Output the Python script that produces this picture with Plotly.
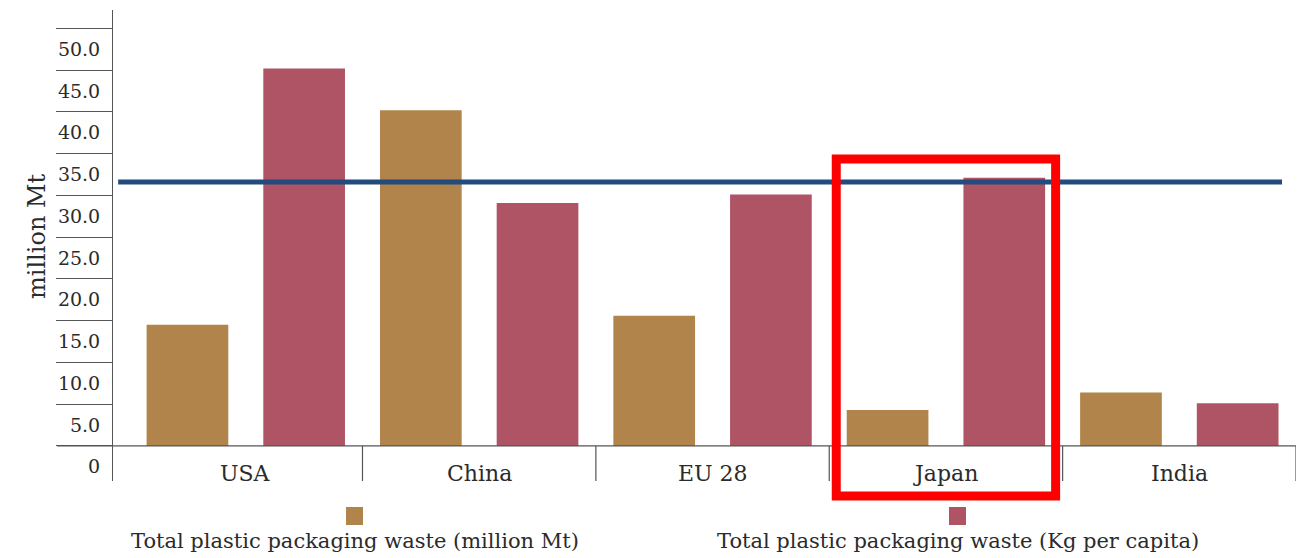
import plotly.graph_objects as go

# ---- data ----
categories = ["USA", "China", "EU 28", "Japan", "India"]
waste_million_mt = [14.5, 40.2, 15.6, 4.3, 6.4]
waste_kg_per_capita = [45.2, 29.1, 30.1, 32.1, 5.1]
reference_line = 31.6
series_names = ["Total plastic packaging waste (million Mt)",
                "Total plastic packaging waste (Kg per capita)"]
tick_values = [0, 5, 10, 15, 20, 25, 30, 35, 40, 45, 50]
tick_labels = ["0", "5.0", "10.0", "15.0", "20.0", "25.0", "30.0", "35.0",
               "40.0", "45.0", "50.0"]
highlight = "Japan"

GOLD = "#B0844A"
RED = "#AE5464"
BLUE = "#234B7D"
TXT = "#2B2B2B"
AXC = "#555555"
FONT = "DejaVu Serif"

W, H = 1313, 558
L, R, T, B = 113, 17, 10, 77
YMIN, YMAX = -4.2, 52.2
XMIN, XMAX = -0.569, 4.5

fig = go.Figure()
x_idx = list(range(len(categories)))
fig.add_trace(go.Bar(x=x_idx, y=waste_million_mt, name=series_names[0],
                     marker=dict(color=GOLD, line=dict(width=0))))
fig.add_trace(go.Bar(x=x_idx, y=waste_kg_per_capita, name=series_names[1],
                     marker=dict(color=RED, line=dict(width=0))))

# label axis (labels sit half an interval below each tick line)
half = (tick_values[1] - tick_values[0]) / 2
fig.add_trace(go.Scatter(x=[None], y=[None], yaxis="y2", showlegend=False))

shapes = []
# reference line
shapes.append(dict(type="line", xref="x", yref="y", x0=-0.547, x1=4.44,
                   y0=reference_line, y1=reference_line,
                   line=dict(color=BLUE, width=5), layer="above"))
# zero baseline extending to the left of the axis
shapes.append(dict(type="line", xref="paper", yref="y", x0=-56 / (W - L - R), x1=1,
                   y0=0, y1=0, line=dict(color=AXC, width=1.2)))
# category separators below baseline
for i in range(len(categories)):
    shapes.append(dict(type="line", xref="x", yref="y", x0=i + 0.5, x1=i + 0.5,
                       y0=YMIN, y1=0, line=dict(color=AXC, width=1.2)))

# highlight box
pw = W - L - R
ph = H - T - B
hi = categories.index(highlight)
px_per_x = pw / (XMAX - XMIN)
bx0 = L + (hi - 0.47 - XMIN) * px_per_x
bx1 = L + (hi + 0.47 - XMIN) * px_per_x
shapes.append(dict(type="rect", xref="paper", yref="paper",
                   x0=(bx0 - L) / pw, x1=(bx1 - L) / pw,
                   y0=(H - B - 496) / ph, y1=(H - B - 159) / ph,
                   line=dict(color="#FF0000", width=9), fillcolor="rgba(0,0,0,0)",
                   layer="above"))

annotations = []
for i, c in enumerate(categories):
    annotations.append(dict(x=i, y=-3.35, xref="x", yref="y", text=c, showarrow=False,
                            font=dict(family=FONT, size=22, color=TXT),
                            xanchor="center", yanchor="middle"))
annotations.append(dict(x=(37 - L) / pw, y=(H - B - 236) / ph, xref="paper", yref="paper",
                        text="million Mt", showarrow=False, textangle=-90,
                        xanchor="center", yanchor="middle",
                        font=dict(family=FONT, size=24, color=TXT)))

# custom legend: square above text
legend_x = [354.5, 957.5]
legend_colors = [GOLD, RED]
for nm, lx, col in zip(series_names, legend_x, legend_colors):
    shapes.append(dict(type="rect", xref="paper", yref="paper",
                       x0=(lx - 8.5 - L) / pw, x1=(lx + 8.5 - L) / pw,
                       y0=(H - B - 525) / ph, y1=(H - B - 507) / ph,
                       fillcolor=col, line=dict(width=0)))
    annotations.append(dict(x=(lx - L) / pw, y=(H - B - 541) / ph, xref="paper", yref="paper",
                            text=nm, showarrow=False, xanchor="center", yanchor="middle",
                            font=dict(family=FONT, size=21, color=TXT)))

fig.update_layout(
    width=W, height=H,
    margin=dict(l=L, r=R, t=T, b=B, pad=0),
    paper_bgcolor="white", plot_bgcolor="white",
    barmode="group", bargap=0.0, bargroupgap=0.3,
    showlegend=False,
    xaxis=dict(range=[XMIN, XMAX], showgrid=False, zeroline=False, showline=False,
               showticklabels=False, ticks=""),
    yaxis=dict(range=[YMIN, YMAX], tickvals=tick_values, ticks="outside", ticklen=56,
               tickcolor=AXC, tickwidth=1.2, showticklabels=False, showgrid=False,
               zeroline=False, showline=True, linecolor=AXC, linewidth=1.2),
    yaxis2=dict(range=[YMIN, YMAX], overlaying="y", side="left", anchor="x",
                tickvals=[v - half for v in tick_values], ticktext=tick_labels,
                ticks="outside", ticklen=8, tickcolor="rgba(0,0,0,0)",
                showgrid=False, zeroline=False, showline=False,
                tickfont=dict(family=FONT, size=19, color=TXT)),
    shapes=shapes, annotations=annotations,
)

fig.write_html("out.html")
